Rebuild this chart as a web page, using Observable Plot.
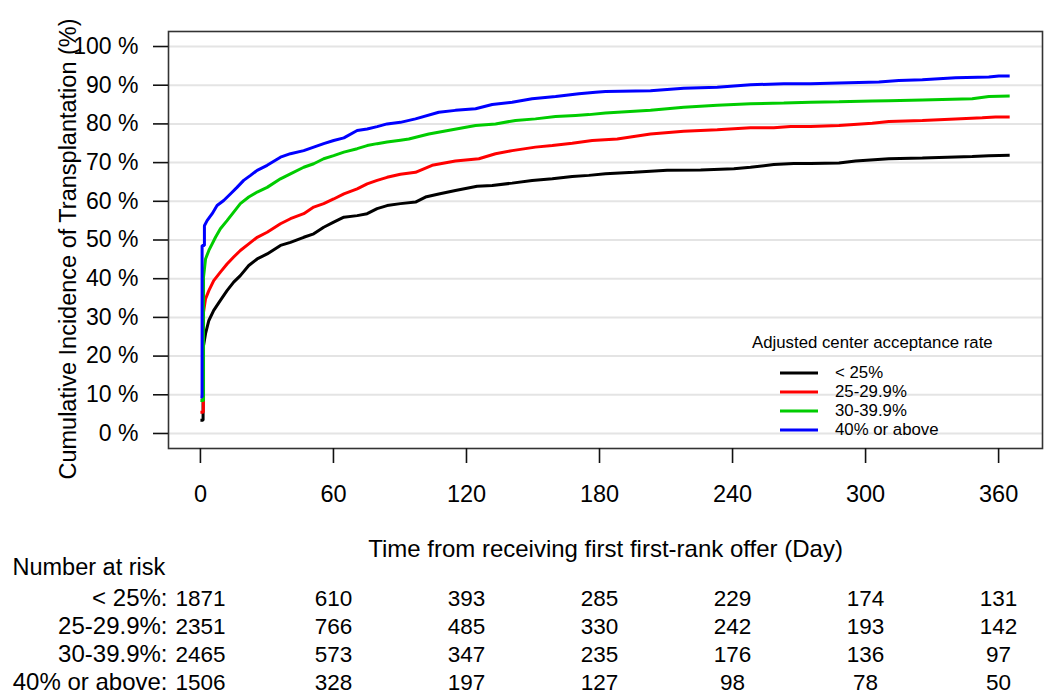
<!DOCTYPE html>
<html>
<head>
<meta charset="utf-8">
<script src="https://cdn.jsdelivr.net/npm/d3@7"></script>
<script src="https://cdn.jsdelivr.net/npm/@observablehq/plot@0.6"></script>
<style>
  html, body { margin: 0; padding: 0; background: #fff; }
  #wrap { position: relative; width: 1050px; height: 698px; font-family: "Liberation Sans", Arial, sans-serif; }
  #wrap svg { overflow: visible; display: block; }
  #legend { position: absolute; left: 752px; top: 333px; font-size: 16.8px; color: #000; }
  #legend .title { line-height: 20px; white-space: nowrap; }
  #legend .entries { margin-top: 10.5px; }
  #legend .row { display: flex; align-items: center; height: 19px; white-space: nowrap; }
  #legend .row svg { margin-left: 28px; margin-right: 17px; }
</style>
</head>
<body>
<div id="wrap"></div>
<script>
// ---- data ----
const groups = ["< 25%", "25-29.9%", "30-39.9%", "40% or above"];
const colors = ["#000000", "#ff0000", "#00cc00", "#0000ff"];

const daysLt25 = [0,1.2,1.2,2.3,3.8,6,9,12,15,18,21.8,25.6,30.1,36.1,40.6,46.6,51.1,55.6,60.1,64.7,70.7,75.2,79.7,84.2,90.2,97,101.5,107.5,115,124.8,131.6,140.6,149.6,158.7,167.7,175.2,182.7,195.5,210.5,225.6,240.6,248.1,258.6,267.6,275.2,288,295.5,310.5,325.6,348.1,355.6,365];
const cumLt25 = [3.4,3.4,22,25.8,29.2,31.8,34.4,36.9,39.1,40.8,43.4,45.1,46.4,48.6,49.4,50.7,51.6,53.3,54.6,55.9,56.3,56.8,58.1,58.9,59.4,59.8,61.1,61.9,62.8,63.9,64.1,64.7,65.4,65.8,66.4,66.7,67.1,67.5,68.0,68.1,68.4,68.8,69.5,69.8,69.8,69.9,70.4,71.0,71.2,71.6,71.8,71.9];

const days25 = [0,1.3,1.3,2.3,3.8,6,9,12,15,18,21.8,25.6,30.1,36.1,40.6,46.6,51.1,55.6,60.1,64.7,70.7,75.2,79.7,84.2,90.2,97,104.5,115,125.6,133.1,140.6,151.1,158.7,167.7,176.7,188,203,218,233.1,248.1,258.6,266.2,275.2,288,303,310.5,325.6,340.6,352.6,358.6,365];
const cum25 = [5.5,5.5,31,34.8,36.9,39.5,41.7,43.8,45.6,47.3,49.0,50.7,52.0,54.2,55.5,56.8,58.5,59.4,60.6,61.9,63.2,64.5,65.4,66.2,67.0,67.5,69.3,70.4,71.0,72.3,73.1,74.0,74.4,75.0,75.7,76.1,77.4,78.1,78.5,79.0,79.0,79.3,79.3,79.6,80.2,80.6,80.9,81.3,81.6,81.8,81.8];

const days30 = [0,1.4,1.4,2.3,3.8,5.3,6.8,9,12,15,18,21.8,25.6,30.1,36.1,40.6,46.6,51.1,55.6,60.1,64.7,70.7,75.2,79.7,84.2,90.2,94,103,113.5,124.1,133.1,142.1,151.1,160.2,169.2,175.2,182.7,203,218,233.1,248.1,263.1,275.2,288,303,310.5,325.6,348.1,355.6,365];
const cum30 = [8.5,8.5,40.4,45.1,47.3,49.0,50.7,52.9,55.0,57.2,59.4,61.1,62.4,63.6,65.8,67.1,68.8,69.7,71.0,71.8,72.7,73.6,74.4,74.9,75.3,75.8,76.1,77.4,78.5,79.6,80.0,80.9,81.3,81.9,82.2,82.4,82.8,83.5,84.3,84.8,85.2,85.4,85.6,85.7,85.9,86.0,86.2,86.5,87.1,87.2];

const days40 = [0,0.75,0.75,1.8,1.8,3.0,5.3,7.5,10.5,13.5,16.5,19.5,22.6,25.6,30.1,36.1,40.6,46.6,51.1,55.6,60.1,64.7,70.7,75.2,79.7,84.2,90.2,97,107.5,115,124.1,131.6,140.6,149.6,160.2,170.7,178.2,182.7,203,218,233.1,248.1,263.1,275.2,288,306,315,325.6,340.6,355.6,360.1,365];
const cum40 = [9.4,9.4,48.6,48.6,53.7,55.0,56.8,58.9,60.2,61.9,63.6,65.4,66.7,68.0,69.3,71.4,72.3,73.1,74.0,74.9,75.7,76.4,78.3,78.7,79.3,80.0,80.4,81.3,83.0,83.5,83.9,85.0,85.6,86.5,87.1,87.8,88.2,88.4,88.6,89.2,89.5,90.1,90.4,90.4,90.6,90.8,91.2,91.4,91.9,92.1,92.4,92.4];

const riskDays = [0, 60, 120, 180, 240, 300, 360];
const riskLt25 = [1871, 610, 393, 285, 229, 174, 131];
const risk25 = [2351, 766, 485, 330, 242, 193, 142];
const risk30 = [2465, 573, 347, 235, 176, 136, 97];
const risk40 = [1506, 328, 197, 127, 98, 78, 50];

const xTicks = [0, 60, 120, 180, 240, 300, 360];
const yTicks = [0, 10, 20, 30, 40, 50, 60, 70, 80, 90, 100];

const yTitle = "Cumulative Incidence of Transplantation (%)";
const xTitle = "Time from receiving first first-rank offer (Day)";
const legendTitle = "Adjusted center acceptance rate";
const riskTitle = "Number at risk";

// ---- build tables ----
const seriesDays = [daysLt25, days25, days30, days40];
const seriesCum = [cumLt25, cum25, cum30, cum40];
const curves = groups.flatMap((g, i) => seriesDays[i].map((d, j) => ({group: g, day: d, pct: seriesCum[i][j]})));
const riskSeries = [riskLt25, risk25, risk30, risk40];
const risk = groups.flatMap((g, i) => riskDays.map((d, j) => ({group: g, day: d, n: riskSeries[i][j]})));

const xDomain = [-14.4, 379.8];
const font = "'Liberation Sans', Arial, sans-serif";

const main = Plot.plot({
  width: 1050,
  height: 558,
  marginLeft: 168,
  marginRight: 8,
  marginTop: 31,
  marginBottom: 110,
  style: {fontFamily: font, fontSize: "23px", color: "#000", background: "#fff"},
  x: {domain: xDomain},
  y: {domain: [-3.88, 103.88]},
  color: {domain: groups, range: colors},
  marks: [
    Plot.ruleY(yTicks, {stroke: "#e4e4e4", strokeWidth: 2}),
    Plot.line(curves, {x: "day", y: "pct", z: "group", stroke: "group", strokeWidth: 3, strokeLinejoin: "miter", strokeLinecap: "butt"}),
    Plot.frame({stroke: "#333", strokeWidth: 1.6}),
    Plot.axisY(yTicks, {tickSize: 15, tickPadding: 15, tickFormat: d => d + " %", stroke: "#111", strokeWidth: 1.6, label: null, fontSize: 23}),
    Plot.axisX(xTicks, {tickSize: 15, tickPadding: 22, stroke: "#111", strokeWidth: 1.6, label: null, fontSize: 23.5}),
    Plot.text([yTitle], {frameAnchor: "left", dx: -100, dy: 9, rotate: -90, textAnchor: "middle", lineAnchor: "middle", fontSize: 23.5}),
    Plot.text([xTitle], {frameAnchor: "bottom", dy: 101, textAnchor: "middle", lineAnchor: "middle", fontSize: 24})
  ]
});

const table = Plot.plot({
  width: 1050,
  height: 140,
  marginLeft: 168,
  marginRight: 8,
  marginTop: 25,
  marginBottom: 1,
  style: {fontFamily: font, fontSize: "22px", color: "#000", background: "#fff"},
  x: {domain: xDomain, axis: null},
  y: {type: "point", domain: groups, padding: 0.5},
  marks: [
    Plot.text(risk, {x: "day", y: "group", text: d => String(d.n), fontSize: 22.5, textAnchor: "middle", lineAnchor: "middle"}),
    Plot.axisY({tickSize: 0, tickPadding: 1, tickFormat: d => d + ":", label: null, fontSize: 24}),
    Plot.text([riskTitle], {frameAnchor: "top-left", dx: -156, dy: -16, textAnchor: "start", lineAnchor: "middle", fontSize: 23.5})
  ]
});

const wrap = document.getElementById("wrap");
wrap.appendChild(main);
wrap.appendChild(table);

// legend (HTML, inside plot area)
const leg = document.createElement("div");
leg.id = "legend";
const lt = document.createElement("div");
lt.className = "title";
lt.textContent = legendTitle;
leg.appendChild(lt);
const entries = document.createElement("div");
entries.className = "entries";
groups.forEach((g, i) => {
  const row = document.createElement("div");
  row.className = "row";
  const ns = "http://www.w3.org/2000/svg";
  const sw = document.createElementNS(ns, "svg");
  sw.setAttribute("width", 38);
  sw.setAttribute("height", 4);
  const ln = document.createElementNS(ns, "line");
  ln.setAttribute("x1", 0); ln.setAttribute("x2", 38);
  ln.setAttribute("y1", 2); ln.setAttribute("y2", 2);
  ln.setAttribute("stroke", colors[i]);
  ln.setAttribute("stroke-width", 3);
  sw.appendChild(ln);
  row.appendChild(sw);
  const sp = document.createElement("span");
  sp.textContent = g;
  row.appendChild(sp);
  entries.appendChild(row);
});
leg.appendChild(entries);
wrap.appendChild(leg);
</script>
</body>
</html>
